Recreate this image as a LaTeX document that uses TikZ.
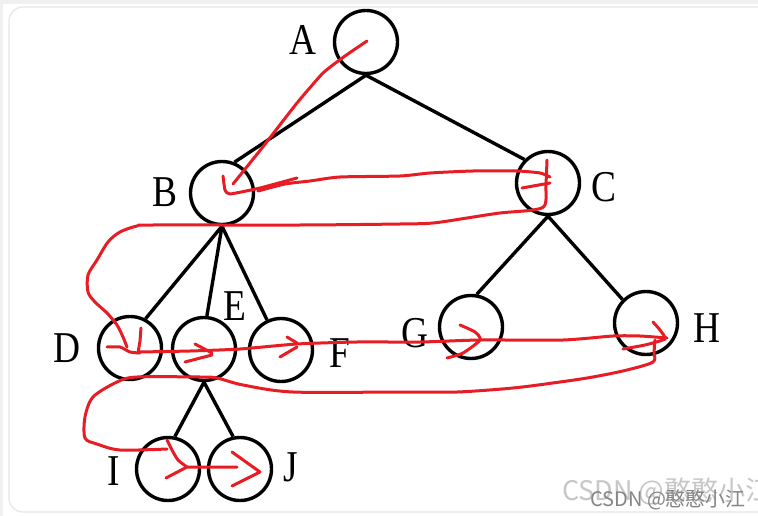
\documentclass[tikz,border=0pt]{standalone}
\usepackage{fontspec}
\setmainfont{Liberation Serif}
\newfontfamily\cjkfont{Noto Sans CJK SC}
\definecolor{inkred}{HTML}{E81C24}
\definecolor{framegray}{HTML}{E6E6E6}
\definecolor{stripgray}{HTML}{F0F0F0}
\newcommand{\sqz}[1]{\scalebox{0.85}[1]{#1}}
\begin{document}
\begin{tikzpicture}[x=1pt,y=-1pt,
  vtx/.style={circle,draw=black,line width=3.4pt,minimum size=63pt,inner sep=0pt},
  lbl/.style={font=\fontsize{44}{44}\selectfont,inner sep=0pt,anchor=base},
  edge/.style={line width=3.4pt,draw=black},
  ink/.style={draw=inkred,line width=3pt,line cap=round,line join=round},
  wmbig/.style={font=\cjkfont\fontsize{27}{27}\selectfont,text=black!22,inner sep=0pt,anchor=base west},
  wmsmall/.style={font=\cjkfont\fontsize{20}{20}\selectfont,text=black!48,inner sep=0pt,anchor=base west}]
\useasboundingbox (0,0) rectangle (758,516);
\fill[white] (0,0) rectangle (758,516);
% page frame
\fill[stripgray] (0,0) rectangle (758,4);
\fill[stripgray] (0,0) rectangle (3,516);
\draw[framegray,line width=1.2pt,rounded corners=14pt] (9,7) rectangle (800,512);

% vertices
\node[vtx] (A) at (366,42) {};
\node[vtx] (B) at (222,193) {};
\node[vtx] (C) at (548,183) {};
\node[vtx] (D) at (130,348) {};
\node[vtx] (E) at (204,349) {};
\node[vtx] (F) at (281,350) {};
\node[vtx] (G) at (471,327) {};
\node[vtx] (H) at (646,323) {};
\node[vtx] (I) at (168,469) {};
\node[vtx] (J) at (240,469) {};

% labels
\node[lbl] (lA) at (303,55) {\sqz{A}};
\node[lbl] (lB) at (165,206) {\sqz{B}};
\node[lbl] (lC) at (604,201) {\sqz{C}};
\node[lbl] (lD) at (67,362) {\sqz{D}};
\node[lbl] (lE) at (235,320) {\sqz{E}};
\node[lbl] (lF) at (340,367) {\sqz{F}};
\node[lbl] (lG) at (415,347) {\sqz{G}};
\node[lbl] (lH) at (707,342) {\sqz{H}};
\node[lbl] (lI) at (114,485) {\sqz{I}};
\node[lbl] (lJ) at (291,481) {\sqz{J}};

% edges
\draw[edge] (A.south) -- (B.68);
\draw[edge] (A.south) -- (C.135);
\draw[edge] (B.south) -- (D.62);
\draw[edge] (B.south) -- (E.85);
\draw[edge] (B.south) -- (F.115);
\draw[edge] (C.south) -- (G.80);
\draw[edge] (C.south) -- (H.135);
\draw[edge] (E.south) -- (I.78);
\draw[edge] (E.south) -- (J.102);

% red hand-drawn traversal
\draw[ink] plot[smooth,tension=0.3] coordinates {(367,41) (345,56) (323,73) (297,103) (262,148) (233,184)};
\draw[ink] plot[smooth,tension=0.3] coordinates {(223,176) (225,190) (230,194) (260,188) (297,178)};
\draw[ink] plot[smooth,tension=0.4] coordinates {(258,191) (285,184) (310,181) (340,177) (400,176) (430,173) (473,171) (517,171) (540,173) (550,177)};
\draw[ink] (522,188) -- (550,183);
\draw[ink] plot[smooth,tension=0.5] coordinates {(547,160) (546,185) (545,205) (533,210) (500,213) (467,218) (433,223) (400,224) (300,225) (153,225) (137,226) (120,232) (108,242) (97,260) (88,275) (88,292) (95,302) (107,313) (117,325) (123,337) (127,347)};
\draw[ink] plot[smooth,tension=0.4] coordinates {(107,347) (120,347) (130,352) (140,353)};
\draw[ink] (141,328) -- (140,341) -- (138,353);
\draw[ink] plot[smooth,tension=0.4] coordinates {(138,352) (190,351) (240,349) (297,344) (357,342) (420,342) (480,340) (563,340) (613,336) (640,336) (667,338)};
\draw[ink] (195,344) -- (212,353);
\draw[ink] (185,362) -- (212,355);
\draw[ink] (287,337) -- (297,343);
\draw[ink] (280,357) -- (297,347);
\draw[ink] plot[smooth,tension=0.4] coordinates {(460,325) (475,332) (480,340) (463,353) (447,358)};
\draw[ink] plot[smooth,tension=0.3] coordinates {(653,322) (660,330) (665,339) (645,345) (623,349)};
\draw[ink] plot[smooth,tension=0.5] coordinates {(655,340) (654,352) (653,362) (627,370) (593,377) (560,382) (513,388) (457,392) (400,392) (293,392) (243,385) (217,378) (200,377) (137,377) (117,382) (93,397) (85,417) (85,438) (97,444) (120,450) (167,449)};
\draw[ink] plot[smooth,tension=0.4] coordinates {(167,440) (172,450) (178,460) (187,467)};
\draw[ink] (166,478) -- (187,467) -- (237,467);
\draw[ink] (232,452) -- (260,472) -- (232,486);

% watermark
\node[wmbig] (wm1) at (562,500) {CSDN @憨憨小江};
\node[wmsmall] (wm2) at (590,506) {CSDN @憨憨小江};
\end{tikzpicture}
\end{document}
